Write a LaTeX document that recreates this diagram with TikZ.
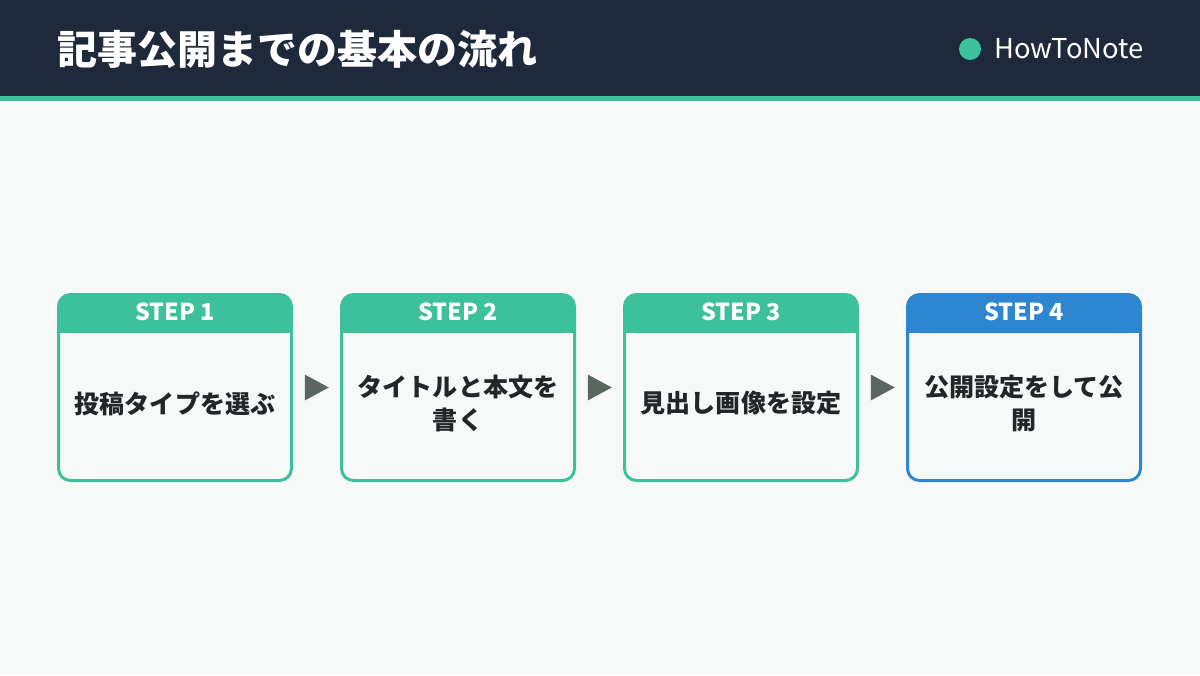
\documentclass[tikz,border=0pt]{standalone}
\usepackage{fontspec}
\setmainfont{Noto Sans CJK JP}
\usetikzlibrary{calc,shapes.geometric}
\definecolor{navy}{HTML}{1E293B}
\definecolor{teal}{HTML}{3CC19C}
\definecolor{sky}{HTML}{2F86D0}
\definecolor{paper}{HTML}{F7F9F8}
\definecolor{ink}{HTML}{222629}
\definecolor{slate}{HTML}{5B6661}
\begin{document}
\begin{tikzpicture}[x=0.75pt,y=-0.75pt,line join=round,
	card/.style={rectangle,rounded corners=9pt,line width=2.25pt,fill=paper,inner sep=0,outer sep=0,minimum width=233*0.75pt,minimum height=186*0.75pt},
	steplbl/.style={text=white,font=\bfseries\fontsize{17.5}{20}\selectfont},
	bodytxt/.style={text=ink,align=center,font=\bfseries\fontsize{18.8}{24.75}\selectfont},
	tri/.style={isosceles triangle,isosceles triangle stretches,shape border rotate=0,fill=slate,inner sep=0,minimum width=26*0.75pt,minimum height=24*0.75pt}]
	\useasboundingbox (0,0) rectangle (1200,675);
	\fill[paper] (0,0) rectangle (1200,675);
	\fill[navy] (0,0) rectangle (1200,96);
	\fill[teal] (0,96) rectangle (1200,100.5);
	\node[anchor=west,inner sep=0,text=white,font=\bfseries\fontsize{30}{34}\selectfont] (title) at (57,49) {記事公開までの基本の流れ};
	\node[circle,fill=teal,inner sep=0,minimum size=22*0.75pt] (dot) at (970,49) {};
	\node[anchor=west,inner sep=0,text=white,font=\fontsize{20.5}{24}\selectfont] (brand) at (994,49) {HowToNote};
	\foreach \i/\col/\txt in {1/teal/投稿タイプを選ぶ,2/teal/{タイトルと本文を\\書く},3/teal/見出し画像を設定,4/sky/{公開設定をして公\\開}}{
		\node[card] (c\i) at (175+283*\i-283,387.5) {};
		\fill[\col,rounded corners=9pt] (c\i.north west) rectangle ($(c\i.north east)+(0,38.5)$);
		\fill[\col] ($(c\i.north west)+(0,19)$) rectangle ($(c\i.north east)+(0,38.5)$);
		\draw[\col,line width=2.25pt,rounded corners=9pt] (c\i.north west) rectangle (c\i.south east);
		\node[steplbl] (s\i) at ($(c\i.north)+(0,17)$) {STEP \i};
		\node[bodytxt] (t\i) at ($(c\i.center)+(0,16)$) {\txt};
	}
	\foreach \i/\j in {1/2,2/3,3/4}
		\node[tri] (a\i) at ($(c\i.east)!0.5!(c\j.west)+(-4,0)$) {};
\end{tikzpicture}
\end{document}
